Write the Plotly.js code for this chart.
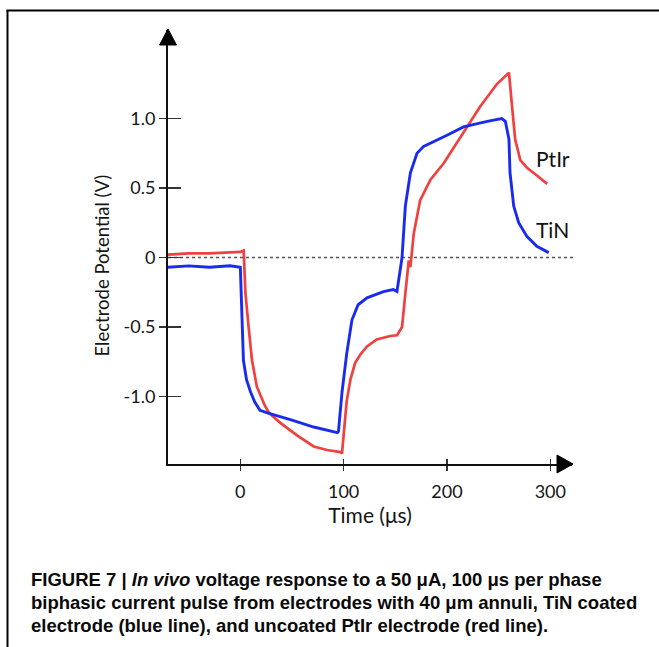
<!DOCTYPE html>
<html>
<head>
<meta charset="utf-8">
<script src="https://cdn.plot.ly/plotly-3.0.1.min.js"></script>
<style>
html,body{margin:0;padding:0;background:#fff;}
#chart{width:659px;height:647px;}
</style>
</head>
<body>
<div id="chart"></div>
<script>
// ---- data ----
const tinTime = [-70,-50,-30,-10,0,1,3,6,10,14,19,27,39,50,71,94,95,98.4,103,108,114,122.6,138.5,148,151.6,153,156.5,159.7,164.6,171,177.4,200,216,239,253,256.5,260,261,264.6,269.4,277.5,287,298.5];
const tinV    = [-0.07,-0.06,-0.07,-0.06,-0.07,-0.3,-0.74,-0.88,-0.97,-1.04,-1.10,-1.12,-1.145,-1.17,-1.22,-1.26,-1.25,-0.97,-0.69,-0.45,-0.34,-0.29,-0.245,-0.23,-0.245,-0.18,0.0,0.37,0.61,0.75,0.80,0.88,0.94,0.98,1.00,0.98,0.85,0.61,0.37,0.25,0.15,0.08,0.035];

const ptirTime = [-70,-50,-30,-10,0,3.2,5,8,11.3,16,24,28,38.7,54.9,71,84,96.8,98.4,100,103,106.5,111,116,122.6,132,145,151.7,156.5,159.7,163,164.6,167.8,174,184,197,216,232,248.5,260,263,266,271,277.5,287,297];
const ptirV    = [0.02,0.03,0.03,0.04,0.04,0.05,-0.26,-0.50,-0.74,-0.93,-1.07,-1.12,-1.19,-1.28,-1.36,-1.385,-1.40,-1.41,-1.26,-1.03,-0.88,-0.76,-0.70,-0.64,-0.59,-0.565,-0.56,-0.50,-0.26,-0.02,-0.07,0.17,0.41,0.56,0.68,0.90,1.085,1.25,1.33,1.085,0.85,0.70,0.645,0.59,0.53];

const xTickVals = [0,100,200,300];
const xTickText = ['0','100','200','300'];
const yTickVals = [-1,-0.5,0,0.5,1];
const yTickText = ['-1.0','-0.5','0','0.5','1.0'];
const xRange = [-70, 321];
const yRange = [-1.486, 1.637];

const captionLines = [
  'FIGURE 7 | <i>In vivo</i> voltage response to a 50 μA, 100 μs per phase',
  'biphasic current pulse from electrodes with 40 μm annuli, TiN coated',
  'electrode (blue line), and uncoated PtIr electrode (red line).'
];

// ---- layout geometry (pixels) ----
const W = 659, H = 647;
const L = 168, R = 572, T = 30, B = 464;
const pw = R - L, ph = B - T;
const px = x => (x - L) / pw;
const py = y => (B - y) / ph;

const blue = '#1a2bf0';
const red = '#f0403f';
const sans = 'Lato, "Open Sans", sans-serif';
const tickFont = {family: sans, size: 18, color: '#151515'};

const traces = [
  {x: ptirTime, y: ptirV, mode: 'lines', name: 'PtIr',
   line: {color: red, width: 2.7}, hoverinfo: 'skip'},
  {x: tinTime, y: tinV, mode: 'lines', name: 'TiN',
   line: {color: blue, width: 2.9}, hoverinfo: 'skip'},
  {x: [], y: [], xaxis: 'x2', yaxis: 'y2', mode: 'lines', showlegend: false}
];

const captionAnn = captionLines.map((t, i) => ({
  text: t, xref: 'paper', yref: 'paper',
  x: px(29), y: py([579, 602, 625][i]),
  xanchor: 'left', yanchor: 'middle', showarrow: false,
  font: {family: '"Liberation Sans", Arial, sans-serif', size: 18.5, color: '#0a0a0a', weight: 'bold'}
}));

const layout = {
  width: W, height: H,
  margin: {l: L, r: W - R, t: T, b: H - B, pad: 0},
  paper_bgcolor: '#fff', plot_bgcolor: 'rgba(0,0,0,0)',
  showlegend: false,
  xaxis: {
    range: xRange, tickvals: xTickVals, ticktext: xTickText,
    ticks: 'outside', ticklen: 5, tickwidth: 1.5, tickcolor: '#333',
    showline: true, linewidth: 2, linecolor: '#111', mirror: false,
    showgrid: false, zeroline: false, tickfont: tickFont, ticklabelstandoff: 5,
    title: {text: 'Time (μs)', standoff: 5, font: {family: sans, size: 21, color: '#151515'}},
    fixedrange: true
  },
  yaxis: {
    range: yRange, tickvals: yTickVals, ticktext: yTickText,
    ticks: 'outside', ticklen: 7, tickwidth: 1.5, tickcolor: '#333',
    showline: true, linewidth: 2, linecolor: '#111',
    showgrid: false, zeroline: false, tickfont: tickFont, ticklabelstandoff: 0,
    fixedrange: true
  },
  xaxis2: {
    overlaying: 'x', anchor: 'y', range: xRange, tickvals: xTickVals,
    ticks: 'inside', ticklen: 5, tickwidth: 1.5, tickcolor: '#333',
    showticklabels: false, showline: false, showgrid: false, zeroline: false
  },
  yaxis2: {
    overlaying: 'y', anchor: 'x', range: yRange, tickvals: yTickVals,
    ticks: 'inside', ticklen: 13, tickwidth: 1.5, tickcolor: '#333',
    showticklabels: false, showline: false, showgrid: false, zeroline: false
  },
  shapes: [
    // dotted zero reference line
    {type: 'line', xref: 'paper', yref: 'y', x0: 0, x1: px(576), y0: 0, y1: 0,
     line: {color: '#555', width: 1.3, dash: 'dot'}, layer: 'below'},
    // y-axis arrowhead
    {type: 'path', xref: 'paper', yref: 'paper',
     path: `M ${px(159.5)} ${py(45)} L ${px(168)} ${py(29)} L ${px(176.5)} ${py(45)} Z`,
     fillcolor: '#000', line: {color: '#000', width: 1}},
    // x-axis arrowhead
    {type: 'path', xref: 'paper', yref: 'paper',
     path: `M ${px(557)} ${py(455)} L ${px(573)} ${py(464)} L ${px(557)} ${py(473)} Z`,
     fillcolor: '#000', line: {color: '#000', width: 1}},
    // figure frame (left and top rules)
    {type: 'line', xref: 'paper', yref: 'paper', x0: px(7.5), x1: px(7.5), y0: py(10), y1: py(648),
     line: {color: '#000', width: 2}},
    {type: 'line', xref: 'paper', yref: 'paper', x0: px(6.5), x1: px(660), y0: py(10.5), y1: py(10.5),
     line: {color: '#000', width: 2}}
  ],
  annotations: [
    {text: 'Electrode Potential (V)', xref: 'paper', yref: 'paper',
     x: px(101.5), y: py(266), textangle: -90, showarrow: false,
     xanchor: 'center', yanchor: 'middle',
     font: {family: sans, size: 18.5, color: '#151515'}},
    {text: 'PtIr', xref: 'x', yref: 'y', x: 284.6, y: 0.71, xanchor: 'left', yanchor: 'middle',
     showarrow: false, font: {family: sans, size: 21, color: '#111'}},
    {text: 'TiN', xref: 'x', yref: 'y', x: 284.6, y: 0.2, xanchor: 'left', yanchor: 'middle',
     showarrow: false, font: {family: sans, size: 21, color: '#111'}}
  ].concat(captionAnn)
};

Plotly.newPlot('chart', traces, layout, {staticPlot: true, displayModeBar: false});
</script>
</body>
</html>
